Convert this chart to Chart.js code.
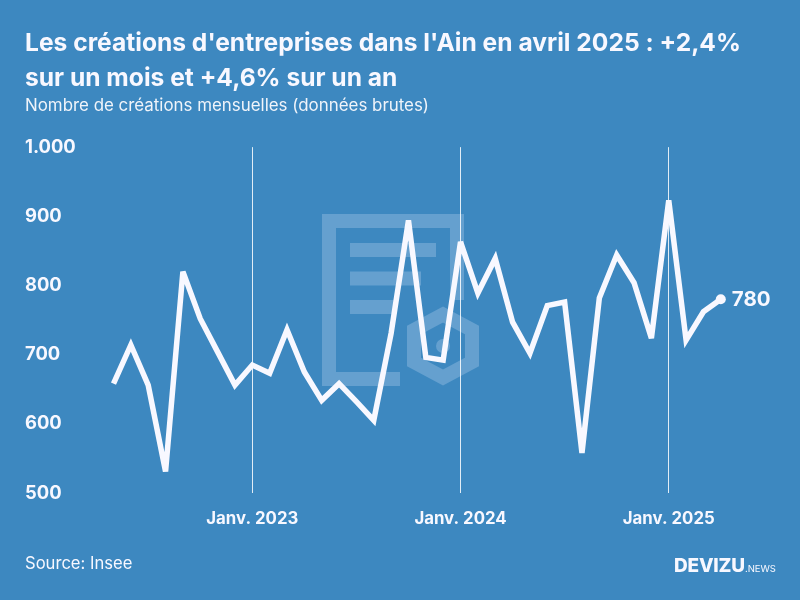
<!DOCTYPE html>
<html><head><meta charset="utf-8">
<style>
html,body{margin:0;padding:0;width:800px;height:600px;overflow:hidden;background:#3D88C0}
#wm{position:absolute;left:0;top:0}
#wrap{position:absolute;left:0;top:0;width:800px;height:600px}
.t{position:absolute;color:#F8F8FF;font-family:"Inter",sans-serif;white-space:nowrap}
</style></head><body>
<svg id="wm" width="800" height="600" fill="#65A0CF">
<path d="M322 214H464V300H450V228H336V372H400V386H322Z"/>
<rect x="350" y="243" width="86" height="14"/>
<rect x="350" y="271.5" width="71" height="14"/>
<rect x="350" y="300" width="47" height="14"/>
<path d="M443 314.5L472 330V362L443 377.5L414 362V330Z" fill="none" stroke="#65A0CF" stroke-width="14"/>
<circle cx="443" cy="346" r="7"/>
</svg>
<div id="wrap"><canvas id="c" width="800" height="600"></canvas></div>
<div class="t" style="left:25px;top:553px;font-size:16.6px;">Source: Insee</div>
<div class="t" style="left:674px;top:554px;font-size:19px;font-weight:800;letter-spacing:-.2px">DEVIZU<span style="font-size:9.5px;font-weight:400;letter-spacing:0">.NEWS</span></div>
<script src="https://cdn.jsdelivr.net/npm/chart.js@4"></script>
<script>
const months = ["Mai 2022","Juin 2022","Juil. 2022","Août 2022","Sept. 2022","Oct. 2022","Nov. 2022","Déc. 2022",
"Janv. 2023","Févr. 2023","Mars 2023","Avr. 2023","Mai 2023","Juin 2023","Juil. 2023","Août 2023","Sept. 2023","Oct. 2023","Nov. 2023","Déc. 2023",
"Janv. 2024","Févr. 2024","Mars 2024","Avr. 2024","Mai 2024","Juin 2024","Juil. 2024","Août 2024","Sept. 2024","Oct. 2024","Nov. 2024","Déc. 2024",
"Janv. 2025","Févr. 2025","Mars 2025","Avr. 2025"];
const creations = [658,714,656,531,820,752,704,656,685,673,736,675,634,658,632,605,731,894,696,692,863,789,839,747,702,771,776,558,782,844,804,724,923,721,762,780];
const titleLines = ["Les créations d'entreprises dans l'Ain en avril 2025 : +2,4%","sur un mois et +4,6% sur un an"];
const subtitleText = "Nombre de créations mensuelles (données brutes)";
const white = "#F8F8FF";
const FONT = '"Inter",sans-serif';
const lastLabel = {
  id:"lastLabel",
  beforeDatasetsDraw(chart){ chart.ctx.miterLimit = 4; },
  afterDatasetsDraw(chart){
    const el = chart.getDatasetMeta(0).data[creations.length-1];
    const c = chart.ctx;
    c.save();
    c.fillStyle = white;
    c.font = "bold 20.5px "+FONT;
    c.textBaseline = "middle";
    c.fillText(String(creations[creations.length-1]), el.x+11, el.y+1);
    c.restore();
  }
};
new Chart(document.getElementById("c"),{
  type:"line",
  data:{labels:months,datasets:[{
    data:creations,
    borderColor:white,backgroundColor:white,borderWidth:5.5,
    borderJoinStyle:"miter",borderCapStyle:"butt",tension:0,
    pointRadius:ctx=>ctx.dataIndex===creations.length-1?5:0,
    pointHoverRadius:0,pointBorderWidth:0,clip:false
  }]},
  options:{
    responsive:false,animation:false,events:[],
    layout:{padding:{left:25,right:0,top:26,bottom:0}},
    plugins:{
      legend:{display:false},tooltip:{enabled:false},
      title:{display:true,text:titleLines,align:"start",color:white,
        font:{family:FONT,size:24.6,weight:"bold",lineHeight:1.42},padding:{top:0,bottom:0}},
      subtitle:{display:true,text:subtitleText,align:"start",color:"#F0F4FA",
        font:{family:FONT,size:16.9,weight:"normal"},padding:{top:0,bottom:31}}
    },
    scales:{
      x:{type:"category",offset:false,
        afterFit(s){s.height=107},
        border:{display:false},
        grid:{drawTicks:false,lineWidth:1,color:ctx=>/^Janv/.test(months[ctx.index])?"rgba(255,255,255,.85)":"transparent"},
        ticks:{autoSkip:false,maxRotation:0,color:white,padding:16,font:{family:FONT,size:16.8,weight:"bold"},
          callback(v,i){return /^Janv/.test(months[i])?months[i]:""}}
      },
      y:{min:500,max:1000,
        afterFit(s){s.width=88.5},
        border:{display:false},grid:{display:false,drawTicks:false},
        ticks:{stepSize:100,color:white,padding:0,crossAlign:"far",align:"center",mirror:false,
          font:{family:FONT,size:18.4,weight:"bold"},
          callback:v=>v>=1000?"1.000":String(v)}
      },
      gutter:{position:"right",min:0,max:1,
        afterFit(s){s.width=79.2},
        border:{display:false},grid:{display:false,drawTicks:false},
        ticks:{display:false}
      }
    }
  },
  plugins:[lastLabel]
});
</script></body></html>
